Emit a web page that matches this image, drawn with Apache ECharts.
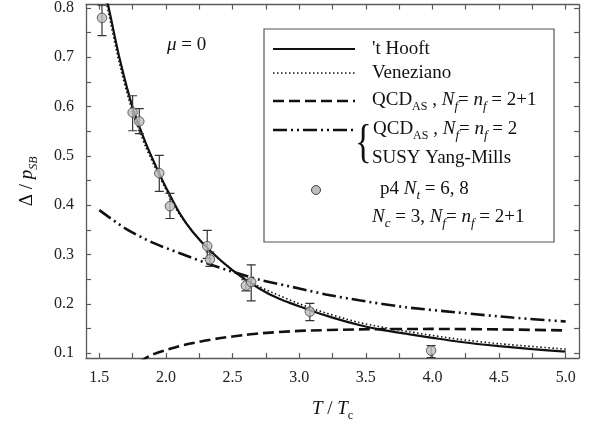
<!DOCTYPE html>
<html><head><meta charset="utf-8">
<script src="https://cdn.jsdelivr.net/npm/echarts@6/dist/echarts.min.js"></script>
<style>html,body{margin:0;padding:0;background:#fff}#c{width:595px;height:432px}</style>
</head><body><div id="c"></div>
<script>
// ---- data ----
const xTickValues = [1.5,1.75,2.0,2.25,2.5,2.75,3.0,3.25,3.5,3.75,4.0,4.25,4.5,4.75,5.0];
const xLabelValues = [1.5,2.0,2.5,3.0,3.5,4.0,4.5,5.0];
const yTickValues = [0.1,0.15,0.2,0.25,0.3,0.35,0.4,0.45,0.5,0.55,0.6,0.65,0.7,0.75,0.8];
const yLabelValues = [0.1,0.2,0.3,0.4,0.5,0.6,0.7,0.8];

const hooftT = [1.54,1.565,1.65,1.75,1.85,1.95,2.0,2.1,2.2,2.33,2.5,2.7,2.85,3.08,3.25,3.45,3.6,3.83,4.0,4.2,4.5,4.75,5.0];
const hooftV = [0.83,0.807,0.700,0.598,0.525,0.464,0.436,0.385,0.346,0.308,0.268,0.231,0.210,0.187,0.172,0.157,0.148,0.138,0.131,0.123,0.114,0.108,0.103];

const venezT = [1.54,1.555,1.65,1.75,1.85,1.95,2.1,2.33,2.5,2.7,3.08,3.45,3.83,4.2,4.5,5.0];
const venezV = [0.82,0.807,0.688,0.588,0.517,0.459,0.382,0.307,0.269,0.235,0.192,0.162,0.143,0.128,0.119,0.108];

const qcd21T = [1.80,1.85,1.9,2.0,2.1,2.25,2.4,2.6,2.7,3.0,3.45,4.0,4.5,5.0];
const qcd21V = [0.082,0.090,0.097,0.106,0.114,0.123,0.130,0.137,0.140,0.145,0.148,0.149,0.148,0.146];

const qcd2T = [1.5,1.7,1.9,2.1,2.35,2.5,2.7,3.0,3.2,3.45,3.8,4.2,4.6,5.0];
const qcd2V = [0.390,0.352,0.324,0.303,0.278,0.265,0.249,0.231,0.219,0.207,0.193,0.182,0.172,0.164];

const p4T  = [1.52,1.75,1.80,1.95,2.03,2.31,2.33,2.60,2.64,3.08,3.99];
const p4V  = [0.780,0.588,0.570,0.465,0.398,0.317,0.290,0.237,0.244,0.184,0.105];
const p4Lo = [0.744,0.551,0.545,0.428,0.373,0.292,0.276,0.226,0.206,0.166,0.091];
const p4Hi = [0.806,0.622,0.596,0.501,0.424,0.349,0.305,0.249,0.279,0.201,0.115];

// ---- chart ----
const F = 'Liberation Serif';
const AX = '#5a5a5a';
const chart = echarts.init(document.getElementById('c'));
const pairs = (a,b) => a.map((t,i)=>[t,b[i]]);

function xAx(pos, show) {
  return {
    type:'value', min:1.4, max:5.1, position:pos,
    axisLine:{show:true, onZero:false, lineStyle:{color:AX, width:1.3}},
    axisTick:{show:true, inside:true, length:5, customValues:xTickValues, lineStyle:{color:AX, width:1.2}},
    axisLabel:{show:show, customValues:xLabelValues, formatter:v=>v.toFixed(1), fontFamily:F, fontSize:16, color:'#222', margin:12},
    splitLine:{show:false}
  };
}
function yAx(pos, show) {
  return {
    type:'value', min:0.09, max:0.807, position:pos,
    axisLine:{show:true, onZero:false, lineStyle:{color:AX, width:1.3}},
    axisTick:{show:true, inside:true, length:5, customValues:yTickValues, lineStyle:{color:AX, width:1.2}},
    axisLabel:{show:show, customValues:yLabelValues, formatter:v=>v.toFixed(1), fontFamily:F, fontSize:16, color:'#222', margin:12},
    splitLine:{show:false}
  };
}
const xa0 = xAx('bottom', true);
xa0.name = '{i|T}{n| / }{i|T}{s|c}';
xa0.nameLocation = 'middle';
xa0.nameGap = 38;
xa0.nameTextStyle = {fontFamily:F, fontSize:19, color:'#111', rich:{
  i:{fontFamily:F, fontSize:19, fontStyle:'italic', color:'#111', lineHeight:26},
  n:{fontFamily:F, fontSize:19, color:'#111', lineHeight:26},
  s:{fontFamily:F, fontSize:12, color:'#111', lineHeight:12, verticalAlign:'bottom'}
}};
const ya0 = yAx('left', true);
ya0.name = '{n|Δ / }{i|p}{s|SB}';
ya0.nameLocation = 'middle';
ya0.nameRotate = 90;
ya0.nameGap = 46;
ya0.nameTextStyle = {fontFamily:F, fontSize:19, color:'#111', rich:{
  i:{fontFamily:F, fontSize:19, fontStyle:'italic', color:'#111', lineHeight:26},
  n:{fontFamily:F, fontSize:19, color:'#111', lineHeight:26},
  s:{fontFamily:F, fontSize:12, fontStyle:'italic', color:'#111', lineHeight:12, verticalAlign:'bottom'}
}};

const richLeg = {
  n:{fontFamily:F, fontSize:19, color:'#111', lineHeight:26},
  i:{fontFamily:F, fontSize:19, fontStyle:'italic', color:'#111', lineHeight:26},
  sub:{fontFamily:F, fontSize:12, color:'#111', lineHeight:13, verticalAlign:'bottom'},
  isub:{fontFamily:F, fontSize:13, fontStyle:'italic', color:'#111', lineHeight:13, verticalAlign:'bottom'}
};
function legText(x, y, txt) {
  return {type:'text', x:x, y:y, z:110, style:{text:txt, rich:richLeg, fontFamily:F, fontSize:19, fill:'#111', align:'left', verticalAlign:'middle'}};
}
function legLine(y, dash, w) {
  return {type:'line', z:110, shape:{x1:273, y1:y, x2:355, y2:y}, style:{stroke:'#111', lineWidth:w, lineDash:dash}};
}

const option = {
  backgroundColor:'#fff',
  animation:false,
  grid:{left:86, right:16, top:4, bottom:74, containLabel:false},
  xAxis:[xa0, xAx('top', false)],
  yAxis:[ya0, yAx('right', false)],
  series:[
    {type:'line', name:"'t Hooft", data:pairs(hooftT,hooftV), smooth:0.25, showSymbol:false, clip:true,
      lineStyle:{color:'#111', width:2.2, type:'solid'}, z:3},
    {type:'line', name:'Veneziano', data:pairs(venezT,venezV), smooth:0.25, showSymbol:false, clip:true,
      lineStyle:{color:'#111', width:1.6, type:[1.5,2.5]}, z:3},
    {type:'line', name:'QCD_AS 2+1', data:pairs(qcd21T,qcd21V), smooth:0.25, showSymbol:false, clip:true,
      lineStyle:{color:'#111', width:2.6, type:[11,5]}, z:3},
    {type:'line', name:'QCD_AS 2', data:pairs(qcd2T,qcd2V), smooth:0.25, showSymbol:false, clip:true,
      lineStyle:{color:'#111', width:2.6, type:[14,4,2,4,2,4]}, z:3},
    {type:'custom', name:'err', clip:true, z:4,
      data:p4T.map((t,i)=>[t,p4Lo[i],p4Hi[i]]),
      encode:{x:0, y:[1,2]},
      renderItem:function(params, api){
        const x = api.value(0), lo = api.value(1), hi = api.value(2);
        const a = api.coord([x, lo]), b = api.coord([x, hi]);
        const h = 4.5;
        const st = {stroke:'#333', lineWidth:1.2};
        return {type:'group', children:[
          {type:'line', shape:{x1:a[0], y1:a[1], x2:b[0], y2:b[1]}, style:st},
          {type:'line', shape:{x1:a[0]-h, y1:a[1], x2:a[0]+h, y2:a[1]}, style:st},
          {type:'line', shape:{x1:b[0]-h, y1:b[1], x2:b[0]+h, y2:b[1]}, style:st}
        ]};
      }
    },
    {type:'scatter', name:'p4', data:pairs(p4T,p4V), symbol:'circle', symbolSize:9.5, clip:true, z:5,
      itemStyle:{color:'#bdbdbd', borderColor:'#444', borderWidth:1}}
  ],
  graphic:[
    {type:'rect', z:100, shape:{x:264, y:29, width:290, height:213}, style:{fill:'#fff', stroke:'#555', lineWidth:1.2}},
    legLine(49, null, 2.2),
    legLine(73, [1.5,2.5], 1.6),
    legLine(101, [11,5], 2.6),
    legLine(130, [14,4,2,4,2,4], 2.6),
    {type:'circle', z:110, shape:{cx:316, cy:190, r:4.5}, style:{fill:'#bdbdbd', stroke:'#444', lineWidth:1}},
    legText(372, 49, "{n|'t Hooft}"),
    legText(372, 73, '{n|Veneziano}'),
    legText(372, 100, '{n|QCD}{sub|AS}{n| , }{i|N}{isub|f}{n|= }{i|n}{isub|f}{n| = 2+1}'),
    {type:'text', x:355, y:145, z:110, scaleX:0.75, style:{text:'{', fontFamily:F, fontSize:46, fill:'#111', align:'left', verticalAlign:'middle'}},
    legText(373, 129, '{n|QCD}{sub|AS}{n| , }{i|N}{isub|f}{n|= }{i|n}{isub|f}{n| = 2}'),
    legText(372, 158, '{n|SUSY Yang-Mills}'),
    legText(380, 189, '{n|p4 }{i|N}{isub|t}{n| = 6, 8}'),
    legText(372, 217, '{i|N}{isub|c}{n| = 3, }{i|N}{isub|f}{n|= }{i|n}{isub|f}{n| = 2+1}'),
    legText(167, 45, '{i|μ}{n| = 0}')
  ]
};
chart.setOption(option);
</script>
</body></html>
